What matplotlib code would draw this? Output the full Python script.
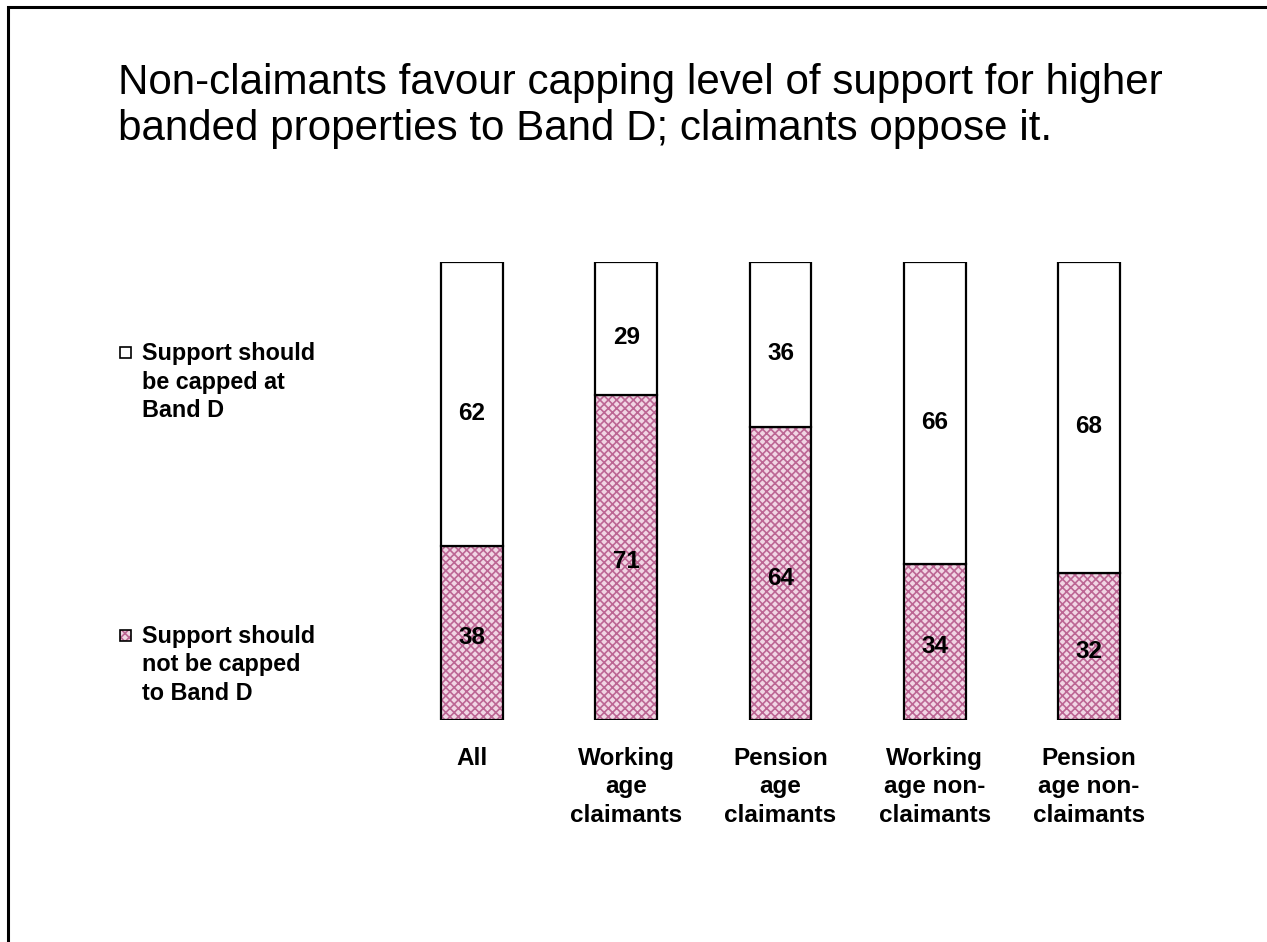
import matplotlib
matplotlib.use("Agg")
import matplotlib.pyplot as plt
from matplotlib.patches import Rectangle
from matplotlib import font_manager as fm
import numpy as np

plt.rcParams['font.family'] = ['Liberation Sans', 'DejaVu Sans']

# find regular-width Liberation Sans Bold
bold_path = None
for f in fm.fontManager.ttflist:
    if f.name == 'Liberation Sans' and 'Narrow' not in f.fname and f.weight in (700, 'bold') \
            and f.style == 'normal':
        bold_path = f.fname
        break
if bold_path is None:
    for f in fm.fontManager.ttflist:
        if 'LiberationSans-Bold.ttf' in f.fname:
            bold_path = f.fname
            break


def bprop(size):
    if bold_path:
        return fm.FontProperties(fname=bold_path, size=size)
    return fm.FontProperties(family='Liberation Sans', weight='bold', size=size)


categories = ["All", "Working\nage\nclaimants", "Pension\nage\nclaimants",
              "Working\nage non-\nclaimants", "Pension\nage non-\nclaimants"]
not_capped = [38, 71, 64, 34, 32]
capped = [62, 29, 36, 66, 68]
series_labels = ["Support should\nbe capped at\nBand D",
                 "Support should\nnot be capped\nto Band D"]
title = "Non-claimants favour capping level of support for higher\nbanded properties to Band D; claimants oppose it."

W, H = 1267, 942
fig = plt.figure(figsize=(W / 100, H / 100), dpi=100)
fig.patch.set_facecolor('white')

# partial frame (top and left edges visible)
fig.add_artist(Rectangle((8 / W, -0.05), 1.2, (H - 7) / H + 0.05, transform=fig.transFigure,
                         fill=False, edgecolor='black', linewidth=2.2))

ax = fig.add_axes([395 / W, (H - 720) / H, 771 / W, 458 / H])
x = np.arange(len(categories))
bw = 0.40
pink_face = '#F1D6E4'
pink_hatch = '#BC6694'
plt.rcParams['hatch.linewidth'] = 1.2

ax.bar(x, not_capped, bw, color=pink_face, edgecolor=pink_hatch, hatch='xxxx', linewidth=0)
ax.bar(x, not_capped, bw, fill=False, edgecolor='black', linewidth=1.6)
ax.bar(x, capped, bw, bottom=not_capped, color='white', edgecolor='black', linewidth=1.6)

for i in range(len(categories)):
    ax.text(x[i], not_capped[i] / 2 - 1, str(not_capped[i]), ha='center', va='center',
            fontproperties=bprop(17.5))
    ax.text(x[i], not_capped[i] + capped[i] / 2 - 2, str(capped[i]), ha='center', va='center',
            fontproperties=bprop(17.5))

ax.set_xlim(-0.5, len(categories) - 0.5)
ax.set_ylim(0, 100)
ax.set_xticks(x)
ax.set_xticklabels(categories, linespacing=1.3)
for lab in ax.get_xticklabels():
    lab.set_fontproperties(bprop(17.5))
ax.tick_params(axis='x', length=0, pad=19.5)
ax.set_yticks([])
for s in ax.spines.values():
    s.set_visible(False)

# title
fig.text(118 / W, 1 - 63 / H, title, fontsize=30.3, ha='left', va='top', linespacing=1.2)

# legend (manual)
sq = 11
fig.add_artist(Rectangle((120 / W, 1 - 358 / H), sq / W, sq / H, transform=fig.transFigure,
                         facecolor='white', edgecolor='black', linewidth=1.2))
fig.add_artist(Rectangle((120 / W, 1 - 641 / H), sq / W, sq / H, transform=fig.transFigure,
                         facecolor=pink_face, edgecolor='none', linewidth=0))
fig.add_artist(Rectangle((120 / W, 1 - 641 / H), sq / W, sq / H, transform=fig.transFigure,
                         facecolor='none', edgecolor=pink_hatch, hatch='xxxx', linewidth=0))
fig.add_artist(Rectangle((120 / W, 1 - 641 / H), sq / W, sq / H, transform=fig.transFigure,
                         fill=False, edgecolor='black', linewidth=1.2))
fig.text(142 / W, 1 - 382 / H, series_labels[0], fontproperties=bprop(16.8),
         ha='left', va='center', linespacing=1.28)
fig.text(142 / W, 1 - 665 / H, series_labels[1], fontproperties=bprop(16.8),
         ha='left', va='center', linespacing=1.28)

fig.savefig("out.png", dpi=100, facecolor='white')
